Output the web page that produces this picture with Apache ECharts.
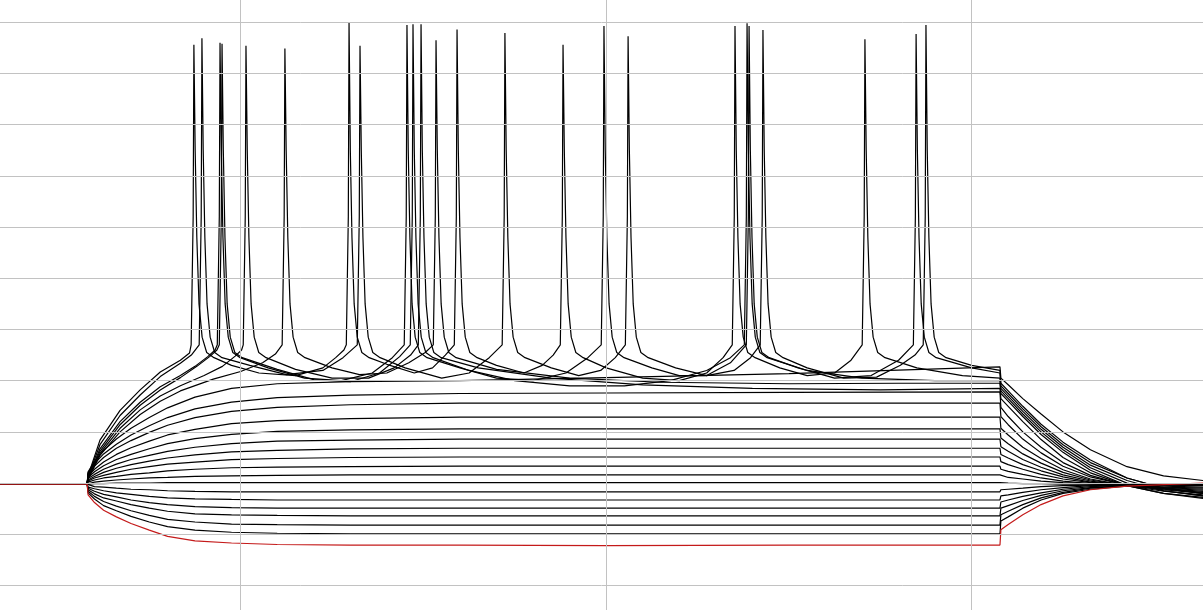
<!DOCTYPE html>
<html>
<head>
<meta charset="utf-8">
<script src="https://cdn.jsdelivr.net/npm/echarts@6/dist/echarts.min.js"></script>
<style>
html,body{margin:0;padding:0;background:#fff;}
#chart{width:1203px;height:610px;}
</style>
</head>
<body>
<div id="chart"></div>
<script>
// Shared sample times (ms) for the non-spiking traces
const TIME = [-131.7,-84,-83.5,-80,-75,-68,-60,-50,-40,-25,-5,20,60,120,200,300,415.5,416,420,428,438,450,465,485,505,526.6];

// Hyperpolarising / sub-threshold traces (mV), one value per TIME point
const H1 = [-60.2,-60.2,-62.3,-63.8,-65.3,-66.6,-67.9,-69.2,-70.4,-71.3,-71.7,-72.0,-72.1,-72.1,-72.2,-72.1,-72.1,-69.1,-68.1,-66.2,-64.2,-62.5,-61.3,-60.6,-60.3,-60.0];
const H2 = [-60.2,-60.2,-61.9,-63.1,-64.4,-65.4,-66.5,-67.6,-68.5,-69.2,-69.6,-69.8,-69.9,-69.9,-69.9,-69.9,-69.9,-67.4,-66.6,-64.9,-63.3,-62.0,-61.2,-60.6,-60.3,-60.1];
const H3 = [-60.2,-60.2,-61.6,-62.6,-63.6,-64.5,-65.4,-66.3,-67.1,-67.6,-68.0,-68.1,-68.2,-68.2,-68.2,-68.2,-68.2,-66.2,-65.5,-64.2,-62.9,-61.8,-61.0,-60.5,-60.2,-60.1];
const H4 = [-60.2,-60.2,-61.3,-62.1,-62.9,-63.5,-64.2,-64.9,-65.5,-66.0,-66.2,-66.3,-66.4,-66.4,-66.4,-66.4,-66.4,-64.9,-64.4,-63.4,-62.4,-61.5,-60.9,-60.5,-60.3,-60.2];
const H5 = [-60.2,-60.2,-61.0,-61.6,-62.2,-62.7,-63.3,-63.8,-64.2,-64.6,-64.8,-64.9,-64.9,-64.9,-64.9,-64.9,-64.9,-63.7,-63.3,-62.6,-61.9,-61.2,-60.7,-60.4,-60.3,-60.2];
const H6 = [-60.2,-60.2,-60.8,-61.1,-61.5,-61.9,-62.2,-62.6,-62.9,-63.1,-63.2,-63.3,-63.3,-63.3,-63.3,-63.3,-63.3,-62.5,-62.3,-61.8,-61.3,-60.9,-60.5,-60.4,-60.3,-60.2];
const H7 = [-60.2,-60.2,-60.5,-60.7,-60.8,-61.0,-61.2,-61.3,-61.5,-61.6,-61.7,-61.7,-61.7,-61.7,-61.7,-61.7,-61.7,-61.3,-61.2,-61.0,-60.7,-60.5,-60.4,-60.3,-60.2,-60.2];
const H8 = [-60.2,-60.2,-60.2,-60.1,-60.1,-60.0,-60.0,-60.0,-59.9,-59.9,-59.9,-59.9,-59.9,-59.9,-59.9,-59.9,-59.9,-60.0,-60.0,-60.1,-60.1,-60.2,-60.2,-60.3,-60.3,-60.3];
const D1 = [-60.2,-60.2,-60.0,-59.8,-59.6,-59.4,-59.2,-59.0,-58.9,-58.7,-58.6,-58.5,-58.4,-58.4,-58.4,-58.4,-58.4,-58.7,-58.9,-59.2,-59.6,-59.9,-60.1,-60.3,-60.4,-60.5];
const D2 = [-60.2,-60.2,-59.8,-59.4,-59.0,-58.7,-58.3,-58.0,-57.6,-57.3,-57.0,-56.9,-56.8,-56.7,-56.7,-56.7,-56.7,-57.3,-57.7,-58.3,-59.0,-59.6,-60.1,-60.4,-60.6,-60.8];
const D3 = [-60.2,-60.2,-59.6,-59.0,-58.5,-57.9,-57.3,-56.8,-56.3,-55.9,-55.4,-55.2,-55.0,-54.9,-54.9,-54.9,-54.9,-55.8,-56.4,-57.3,-58.3,-59.2,-59.9,-60.5,-60.8,-61.0];
const D4 = [-60.2,-60.2,-59.4,-58.7,-57.9,-57.1,-56.4,-55.7,-55.1,-54.5,-53.9,-53.6,-53.3,-53.2,-53.2,-53.2,-53.2,-54.4,-55.1,-56.4,-57.6,-58.8,-59.8,-60.5,-60.9,-61.2];
const D5 = [-60.2,-60.2,-59.1,-58.3,-57.3,-56.3,-55.4,-54.6,-53.8,-53.0,-52.3,-51.8,-51.6,-51.4,-51.4,-51.4,-51.4,-52.9,-53.8,-55.4,-56.9,-58.4,-59.6,-60.5,-61.0,-61.4];
const D6 = [-60.2,-60.2,-58.9,-57.8,-56.6,-55.4,-54.4,-53.3,-52.3,-51.3,-50.5,-49.9,-49.6,-49.4,-49.4,-49.4,-49.4,-51.2,-52.3,-54.3,-56.1,-57.9,-59.4,-60.5,-61.1,-61.6];
const D7 = [-60.2,-60.2,-58.6,-57.3,-55.9,-54.4,-53.1,-51.8,-50.6,-49.5,-48.4,-47.8,-47.4,-47.1,-47.1,-47.1,-47.1,-49.3,-50.6,-53.0,-55.2,-57.4,-59.2,-60.5,-61.2,-61.8];
const D8 = [-60.2,-60.2,-58.3,-56.7,-55.0,-53.2,-51.7,-50.1,-48.7,-47.2,-46.0,-45.2,-44.7,-44.4,-44.4,-44.4,-44.4,-47.0,-48.6,-51.4,-54.1,-56.7,-58.8,-60.4,-61.3,-62.0];
const G1 = [-60.2,-60.2,-58.0,-56.2,-54.3,-52.4,-50.6,-48.8,-47.2,-45.5,-44.2,-43.3,-42.8,-42.5,-42.4,-42.3,-42.2,-45.2,-47.0,-50.0,-53.0,-56.0,-58.5,-60.5,-61.6,-62.3];
const F1 = [-60.2,-60.2,-57.8,-55.8,-53.6,-51.4,-49.3,-47.2,-45.3,-43.2,-41.5,-40.6,-40.2,-40.0,-39.4,-38.6,-37.3,-39.5,-40.8,-43.5,-46.5,-50.0,-53.5,-56.8,-58.6,-59.5];

// Spiking traces: [time ms, mV]
const SPK_A = [[-131.7,-60.2],[-84,-60.2],[-83.5,-58.2],[-82.5,-57.5],[-77,-51.6],[-66,-45.8],[-55,-41.8],[-44,-38.3],[-33,-36.0],[-28,-34.6],[-27.1,-33],[-26.0,-8],[-25.6,25.6],[-24.9,5],[-24.0,-12],[-22.8,-25],[-21.1,-31.5],[-18.6,-34.5],[-14.6,-35.5],
[-5,-37.0],[10,-38.5],[30,-39.0],[45,-37.5],[52,-35.5],[56.5,-34.0],[57.8,-33],[58.9,-8],[59.3,29.9],[60.0,5],[60.9,-12],[62.1,-25],[63.8,-31.5],[66.3,-34.5],[70.3,-35.5],
[80,-36.8],[95,-38.5],[105,-37.5],[112,-35.0],[116.9,-33],[118.0,-8],[118.4,28.6],[119.1,5],[120.0,-12],[121.2,-25],[122.9,-31.5],[125.4,-34.5],[129.4,-35.5],
[140,-37.0],[155,-38.5],[165,-37.0],[171,-35.0],[174.9,-33],[176.0,-8],[176.4,25.6],[177.1,5],[178.0,-12],[179.2,-25],[180.9,-31.5],[183.4,-34.5],[187.4,-35.5],
[200,-37.5],[220,-39.5],[240,-40.0],[255,-38.5],[264,-35.5],[269,-33],[270.1,-8],[270.5,29.3],[271.2,5],[272.1,-12],[273.3,-25],[275,-31.5],[277.5,-34.5],[281.5,-35.5],
[295,-37.5],[310,-39.0],[325,-38.5],[334,-36.0],[340.1,-33],[341.2,-8],[341.6,26.7],[342.3,5],[343.2,-12],[344.4,-25],[346.1,-31.5],[348.6,-34.5],[352.6,-35.5],
[370,-37.5],[395,-39.0],[415.5,-39.5],[416,-41.5],[420,-43.0],[428,-46.0],[438,-49.5],[450,-53.0],[465,-56.5],[485,-59.5],[505,-61.5],[526.6,-62.5]];

const SPK_B = [[-131.7,-60.2],[-84,-60.2],[-83.5,-58.4],[-82.5,-57.8],[-77,-52.5],[-66,-46.8],[-55,-42.8],[-44,-39.2],[-33,-36.6],[-27,-35.0],[-22.7,-33],[-21.6,-8],[-21.2,26.9],[-20.5,5],[-19.6,-12],[-18.4,-25],[-16.7,-31.5],[-14.2,-34.5],[-10.2,-35.5],
[5,-37.0],[25,-38.8],[45,-38.0],[56,-35.5],[63.8,-33],[64.9,-8],[65.3,25.4],[66.0,5],[66.9,-12],[68.1,-25],[69.8,-31.5],[72.3,-34.5],[76.3,-35.5],
[90,-37.5],[110,-39.5],[125,-38.5],[136,-35.5],[143.1,-33],[144.2,-8],[144.6,27.9],[145.3,5],[146.2,-12],[147.4,-25],[149.1,-31.5],[151.6,-34.5],[155.6,-35.5],
[170,-37.5],[185,-39.0],[197,-38.0],[205,-35.5],[210.5,-33],[211.6,-8],[212.0,27.3],[212.7,5],[213.6,-12],[214.8,-25],[216.5,-31.5],[219,-34.5],[223,-35.5],
[238,-37.5],[255,-39.0],[270,-38.0],[279,-35.5],[284.3,-33],[285.4,-8],[285.8,28.5],[286.5,5],[287.4,-12],[288.6,-25],[290.3,-31.5],[292.8,-34.5],[296.8,-35.5],
[310,-37.5],[330,-39.5],[348,-39.3],[361,-37.0],[369,-35.0],[373.5,-33],[374.6,-8],[375.0,29.5],[375.7,5],[376.6,-12],[377.8,-25],[379.5,-31.5],[382,-34.5],[386,-35.5],
[400,-37.0],[415.5,-38.0],[416,-40.5],[420,-42.0],[428,-45.0],[438,-48.5],[450,-52.0],[465,-55.5],[485,-59.0],[505,-61.0],[526.6,-62.0]];

const SPK_C = [[-131.7,-60.2],[-84,-60.2],[-83.5,-58.6],[-82.5,-58.1],[-77,-53.3],[-66,-48.0],[-55,-44.2],[-44,-41.2],[-33,-39.0],[-25,-37.2],[-18,-35.3],[-14,-34.0],[-12.8,-33],[-11.7,-8],[-11.3,26.0],[-10.6,5],[-9.7,-12],[-8.5,-25],[-6.8,-31.5],[-4.3,-34.5],[-0.3,-35.5],
[15,-37.5],[35,-39.5],[55,-40.0],[72,-38.5],[83,-35.5],[89.5,-33],[90.6,-8],[91.0,29.5],[91.7,5],[92.6,-12],[93.8,-25],[95.5,-31.5],[98,-34.5],[102,-35.5],
[120,-37.5],[140,-39.5],[160,-40.0],[178,-38.5],[190,-35.5],[197.3,-33],[198.4,-8],[198.8,29.3],[199.5,5],[200.4,-12],[201.6,-25],[203.3,-31.5],[205.8,-34.5],[209.8,-35.5],
[225,-37.5],[240,-39.0],[255,-39.0],[268,-36.5],[276.7,-33],[277.8,-8],[278.2,29.3],[278.9,5],[279.8,-12],[281,-25],[282.7,-31.5],[285.2,-34.5],[289.2,-35.5],
[305,-37.5],[325,-39.5],[345,-39.0],[360,-36.0],[368.1,-33],[369.2,-8],[369.6,27.7],[370.3,5],[371.2,-12],[372.4,-25],[374.1,-31.5],[376.6,-34.5],[380.6,-35.5],
[400,-37.5],[415.5,-38.5],[416,-41.0],[420,-42.5],[428,-45.5],[438,-49.0],[450,-52.5],[465,-56.0],[485,-59.0],[505,-61.0],[526.6,-62.0]];

const SPK_D = [[-131.7,-60.2],[-84,-60.2],[-83.5,-58.7],[-82.5,-58.3],[-77,-53.8],[-66,-48.6],[-55,-44.8],[-44,-41.8],[-33,-39.4],[-24,-37.2],[-17,-35.3],[-13,-34.0],[-11.7,-33],[-10.6,-8],[-10.2,25.8],[-9.5,5],[-8.6,-12],[-7.4,-25],[-5.7,-31.5],[-3.2,-34.5],[0.8,-35.5],
[20,-37.8],[40,-39.8],[60,-40.2],[76,-38.5],[87,-35.3],[92.8,-33],[93.9,-8],[94.3,29.6],[95,5],[95.9,-12],[97.1,-25],[98.8,-31.5],[101.3,-34.5],[105.3,-35.5],
[125,-38.0],[150,-40.0],[180,-41.0],[210,-41.0],[235,-40.0],[255,-38.0],[268,-35.5],[275.6,-33],[276.7,-8],[277.1,29.8],[277.8,5],[278.7,-12],[279.9,-25],[281.6,-31.5],[284.1,-34.5],[288.1,-35.5],
[310,-38.0],[340,-39.5],[380,-40.0],[415.5,-40.0],[416,-42.0],[420,-43.5],[428,-46.5],[438,-50.0],[450,-53.5],[465,-57.0],[485,-60.0],[505,-61.5],[526.6,-62.5]];

const SPK_E = [[-131.7,-60.2],[-84,-60.2],[-83.5,-58.8],[-82.5,-58.4],[-77,-54.2],[-66,-49.3],[-55,-45.7],[-44,-43.0],[-33,-41.0],[-20,-39.0],[-10,-37.2],[-3,-35.2],[0.5,-34.0],[1.4,-33],[2.5,-8],[2.9,25.4],[3.6,5],[4.5,-12],[5.7,-25],[7.4,-31.5],[9.9,-34.5],[13.9,-35.5],
[30,-37.8],[50,-39.5],[70,-39.5],[84,-37.5],[93,-35.0],[97.2,-33],[98.3,-8],[98.7,29.6],[99.4,5],[100.3,-12],[101.5,-25],[103.2,-31.5],[105.7,-34.5],[109.7,-35.5],
[130,-37.5],[170,-39.5],[220,-40.8],[280,-41.5],[350,-41.8],[415.5,-41.5],[416,-43.5],[420,-45.0],[428,-48.0],[438,-51.5],[450,-55.0],[465,-58.0],[485,-60.5],[505,-62.0],[526.6,-63.0]];

const SPK_F = [[-131.7,-60.2],[-84,-60.2],[-83.5,-58.9],[-82.5,-58.5],[-77,-54.6],[-66,-50.0],[-55,-46.6],[-44,-44.0],[-33,-42.0],[-15,-39.7],[0,-38.2],[12,-36.5],[19,-34.8],[22.7,-33],[23.8,-8],[24.2,24.9],[24.9,5],[25.8,-12],[27,-25],[28.7,-31.5],[31.2,-34.5],[35.2,-35.5],
[50,-37.5],[65,-38.8],[80,-38.5],[92,-36.5],[101,-34.5],[105.4,-33],[106.5,-8],[106.9,26.5],[107.6,5],[108.5,-12],[109.7,-25],[111.4,-31.5],[113.9,-34.5],[117.9,-35.5],
[140,-37.8],[180,-39.5],[230,-40.3],[300,-40.6],[360,-40.5],[415.5,-40.5],[416,-42.5],[420,-44.0],[428,-47.0],[438,-50.5],[450,-54.0],[465,-57.5],[485,-60.5],[505,-62.0],[526.6,-62.8]];

// Visible window and grid lines
const X_RANGE = [-131.7, 526.6];       // ms
const Y_RANGE = [-84.79, 34.36];       // mV
const X_GRID = [0, 200, 400];          // ms
const Y_GRID = [-80,-70,-60,-50,-40,-30,-20,-10,0,10,20,30]; // mV

function onTime(arr){ return TIME.map((t,i)=>[t, arr[i]]); }

const black = {color:'#000000', width:1.2};
const lineBase = {type:'line', showSymbol:false, symbol:'none', silent:true};
const series = [];
// grid lines (drawn through the axes as mark lines)
series.push({
  type:'line', name:'grid', data:[], silent:true, z:1,
  markLine:{
    silent:true, symbol:['none','none'], animation:false,
    label:{show:false},
    lineStyle:{color:'#c2c2c2', width:1, type:'solid'},
    emphasis:{disabled:true},
    data: X_GRID.map(v=>({xAxis:v})).concat(Y_GRID.map(v=>({yAxis:v})))
  }
});
[H2,H3,H4,H5,H6,H7,H8,D1,D2,D3,D4,D5,D6,D7,D8,G1,F1].forEach((a,i)=>{
  series.push(Object.assign({}, lineBase, {name:'sub'+i, data:onTime(a), lineStyle:black, z:2}));
});
[SPK_F,SPK_E,SPK_D,SPK_C,SPK_B,SPK_A].forEach((a,i)=>{
  series.push(Object.assign({}, lineBase, {name:'spk'+i, data:a, lineStyle:black, z:3}));
});
series.push(Object.assign({}, lineBase, {name:'lowest', data:onTime(H1), lineStyle:{color:'#c41a1a', width:1.2}, z:4}));

const chart = echarts.init(document.getElementById('chart'), null, {renderer:'canvas'});
chart.setOption({
  animation:false,
  backgroundColor:'#ffffff',
  grid:{left:0, right:0, top:0, bottom:0, containLabel:false},
  xAxis:{type:'value', min:X_RANGE[0], max:X_RANGE[1],
    axisLine:{show:false}, axisTick:{show:false}, axisLabel:{show:false}, splitLine:{show:false}},
  yAxis:{type:'value', min:Y_RANGE[0], max:Y_RANGE[1],
    axisLine:{show:false}, axisTick:{show:false}, axisLabel:{show:false}, splitLine:{show:false}},
  series: series
});
</script>
</body>
</html>
